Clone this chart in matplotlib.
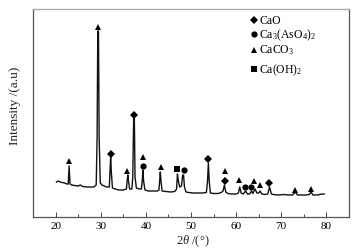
import matplotlib
matplotlib.use("Agg")
import matplotlib.pyplot as plt
from matplotlib.ticker import MultipleLocator

plt.rcParams['font.family'] = ['Liberation Serif', 'DejaVu Serif']
plt.rcParams['mathtext.fontset'] = 'custom'
plt.rcParams['mathtext.rm'] = 'Liberation Serif'
plt.rcParams['mathtext.it'] = 'Liberation Serif:italic'
plt.rcParams['mathtext.bf'] = 'Liberation Serif:bold'

# XRD pattern (2theta in degrees, intensity in a.u.)
two_theta = [20.2, 20.6, 21.0, 21.5, 22.0, 22.5, 22.8, 23.0, 23.2, 23.6, 24.2, 25.0, 25.5, 26.0,
             27.0, 27.8, 28.5, 29.0, 29.2, 29.35, 29.5, 29.65, 29.9, 30.3, 30.8, 31.3, 31.9,
             32.05, 32.2, 32.35, 32.6, 33.2, 34.0, 35.0, 35.7, 35.85, 36.0, 36.15, 36.4, 36.9,
             37.1, 37.3, 37.45, 37.6, 37.9, 38.5, 39.0, 39.2, 39.35, 39.5, 39.8, 40.5, 41.5,
             42.5, 42.9, 43.05, 43.2, 43.35, 43.6, 44.5, 45.5, 46.4, 46.8, 47.0, 47.2, 47.5,
             47.9, 48.15, 48.35, 48.55, 48.9, 49.5, 50.5, 51.5, 52.5, 53.4, 53.65, 53.85, 54.05,
             54.3, 55.0, 56.0, 56.7, 57.1, 57.4, 57.7, 58.2, 59.0, 60.0, 60.5, 60.8, 61.1, 61.6,
             62.1, 62.5, 63.0, 63.4, 63.7, 64.2, 64.6, 65.0, 65.3, 65.7, 66.5, 67.0, 67.4, 67.8,
             68.5, 69.5, 70.5, 71.5, 72.5, 73.1, 73.6, 74.5, 75.5, 76.2, 76.6, 77.0, 78.0, 79.0,
             79.5]
intensity = [35, 36, 35, 34.5, 34, 33, 33, 51, 33, 32, 31.5, 31, 32, 30.5,
             30, 30, 30, 32, 80, 186, 186, 80, 34, 32, 31, 30, 30,
             45, 60, 45, 29, 28, 27, 27, 28, 36, 42, 36, 28, 28,
             40, 99, 99, 40, 29, 28, 28, 36, 47, 36, 27, 26, 26,
             26, 27, 36, 45, 36, 26, 25.5, 25, 25.5, 28, 43, 36, 30,
             31, 42, 42, 30, 25, 24.5, 24, 24, 24, 24.5, 35, 54, 35,
             24, 23.5, 23.5, 24.5, 26, 32, 25, 23.5, 23, 23, 24, 30, 24, 23,
             26, 23, 23, 26, 23.5, 28, 24, 24, 26, 23, 22.5, 23, 30, 23,
             22.3, 22, 22.5, 22, 22, 25, 22, 22, 22, 22.5, 25, 22, 22, 23,
             23]

# Phase markers
cao_x = [32.2, 37.35, 53.85, 57.5, 67.35]
cao_y = [63, 102, 58, 36, 34]
caas_x = [39.4, 48.4, 62.05, 63.4]
caas_y = [51, 47, 30, 30]
caco3_x = [22.95, 29.35, 35.9, 39.3, 43.3, 57.5, 60.6, 64.05, 65.25, 73.05, 76.65]
caco3_y = [56, 190, 46, 60, 50, 46, 37, 36, 32, 27, 28]
caoh_x = [46.85]
caoh_y = [48]

legend_labels = ['CaO', r'Ca$_3$(AsO$_4$)$_2$', r'CaCO$_3$', r'Ca(OH)$_2$']
legend_markers = ['D', 'o', '^', 's']

fig = plt.figure(figsize=(3.61, 2.53), dpi=100)
W, H = 361, 253
ax = fig.add_axes([33 / W, 1 - 218 / H, (349 - 33) / W, (218 - 10) / H])

ax.plot(two_theta, intensity, color='#111111', lw=1.0, solid_joinstyle='round')
mk = dict(color='black', linestyle='none', markeredgewidth=0)
ax.plot(cao_x, cao_y, marker='D', markersize=4.2, **mk)
ax.plot(caas_x, caas_y, marker='o', markersize=4.5, **mk)
ax.plot(caco3_x, caco3_y, marker='^', markersize=4.8, **mk)
ax.plot(caoh_x, caoh_y, marker='s', markersize=4.2, **mk)

ax.set_xlim(15, 85)
ax.set_ylim(0, 208)
ax.xaxis.set_major_locator(MultipleLocator(10))
ax.xaxis.set_minor_locator(MultipleLocator(5))
ax.set_xticks(range(20, 81, 10))
ax.tick_params(axis='x', which='major', direction='in', length=3.5, width=0.7,
               color='#444444', labelsize=8, pad=3)
ax.tick_params(axis='x', which='minor', direction='in', length=2, width=0.7, color='#444444')
ax.set_yticks([])
for s in ['left', 'bottom', 'right']:
    ax.spines[s].set_color('#555555')
    ax.spines[s].set_linewidth(0.9)
ax.spines['top'].set_color('#aaaaaa')
ax.spines['top'].set_linewidth(1.0)

# Legend drawn manually at the reference positions
rows_y = [20.7, 35, 50.5, 70]
for lab, m, yy in zip(legend_labels, legend_markers, rows_y):
    ms = {'D': 4.2, 'o': 4.5, '^': 4.8, 's': 4.2}[m]
    fig.add_artist(plt.Line2D([254 / W], [1 - yy / H], marker=m, markersize=ms,
                              color='black', markeredgewidth=0, linestyle='none',
                              transform=fig.transFigure))
    fig.text(259 / W, 1 - yy / H, lab, fontsize=8.5, ha='left', va='center')

fig.text(15 / W, 1 - 106 / H, 'Intensity /(a.u)', rotation=90, fontsize=9.5,
         ha='center', va='center', color='#222222')
fig.text(193 / W, 1 - 241 / H, r'2$\mathit{\theta}$ /(°)', fontsize=9,
         ha='center', va='center', color='#222222')

fig.savefig('out.png', dpi=100)
